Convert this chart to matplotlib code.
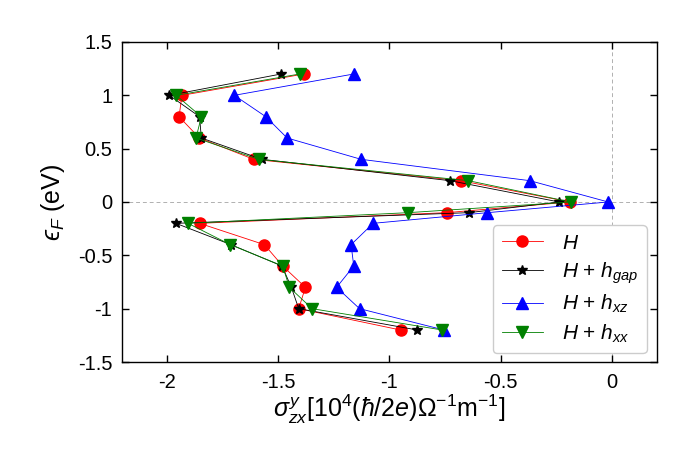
import matplotlib
matplotlib.use("Agg")
import matplotlib.pyplot as plt
from matplotlib.ticker import FuncFormatter

plt.rcParams['font.family'] = ['Liberation Sans', 'DejaVu Sans']
plt.rcParams['mathtext.fontset'] = 'custom'
plt.rcParams['mathtext.rm'] = 'Liberation Sans'
plt.rcParams['mathtext.it'] = 'Liberation Sans:italic'
plt.rcParams['mathtext.bf'] = 'Liberation Sans:bold'
plt.rcParams['mathtext.fallback'] = 'stixsans'
plt.rcParams['axes.unicode_minus'] = False

energy = [1.2, 1.0, 0.8, 0.6, 0.4, 0.2, 0.0, -0.1, -0.2, -0.4, -0.6, -0.8, -1.0, -1.2]
sigma_H = [-1.383, -1.931, -1.944, -1.853, -1.609, -0.680, -0.189, -0.743, -1.852, -1.561, -1.479, -1.377, -1.407, -0.950]
sigma_gap = [-1.486, -1.988, -1.852, -1.844, -1.572, -0.728, -0.238, -0.643, -1.958, -1.711, -1.482, -1.440, -1.407, -0.875]
sigma_xz = [-1.160, -1.696, -1.555, -1.459, -1.127, -0.370, -0.018, -0.560, -1.073, -1.172, -1.160, -1.237, -1.134, -0.755]
sigma_xx = [-1.402, -1.957, -1.844, -1.868, -1.587, -0.646, -0.186, -0.916, -1.904, -1.714, -1.479, -1.449, -1.347, -0.763]

labels = [r'$H$', r'$H$ + $h_{gap}$', r'$H$ + $h_{xz}$', r'$H$ + $h_{xx}$']
xticks = [-2, -1.5, -1, -0.5, 0]
yticks = [1.5, 1, 0.5, 0, -0.5, -1, -1.5]

fig = plt.figure(figsize=(6.98, 4.65), dpi=100)
ax = fig.add_axes([0.1748, 0.2215, 0.7662, 0.6882])

ax.axhline(0, color='#b0b0b0', ls=(0, (4, 3)), lw=0.7, zorder=0)
ax.axvline(0, color='#b0b0b0', ls=(0, (4, 3)), lw=0.7, zorder=0)

ax.plot(sigma_H, energy, color='red', marker='o', ms=8, lw=0.6, label=labels[0])
ax.plot(sigma_gap, energy, color='black', marker='*', ms=7, lw=0.6, label=labels[1])
ax.plot(sigma_xz, energy, color='blue', marker='^', ms=9, lw=0.6, label=labels[2])
ax.plot(sigma_xx, energy, color='green', marker='v', ms=9, lw=0.6, label=labels[3])

ax.set_xlim(-2.2, 0.2)
ax.set_ylim(-1.5, 1.5)
ax.set_xticks(xticks)
ax.set_yticks(yticks)
fmt = FuncFormatter(lambda v, p: '%g' % v)
ax.xaxis.set_major_formatter(fmt)
ax.yaxis.set_major_formatter(fmt)
ax.tick_params(direction='in', top=True, right=True, labelsize=14.5, length=5, width=1)
ax.tick_params(axis='y', pad=7)
ax.tick_params(axis='x', pad=8)
for s in ax.spines.values():
    s.set_linewidth(1.0)

ax.set_xlabel(r'$\sigma^{y}_{zx}[10^4(\hbar/2e)\Omega^{-1}\mathrm{m}^{-1}]$', fontsize=18, labelpad=0)
ax.set_ylabel('$\u03f5_F$ (eV)', fontsize=18, labelpad=8)

leg = ax.legend(loc='lower right', fontsize=15, handlelength=2.0, borderpad=0.4,
                labelspacing=0.35, handletextpad=0.9, framealpha=1, edgecolor='#cccccc',
                bbox_to_anchor=(0.981, 0.028), borderaxespad=0)
leg.get_frame().set_linewidth(1.0)

fig.savefig('out.png', dpi=100)
